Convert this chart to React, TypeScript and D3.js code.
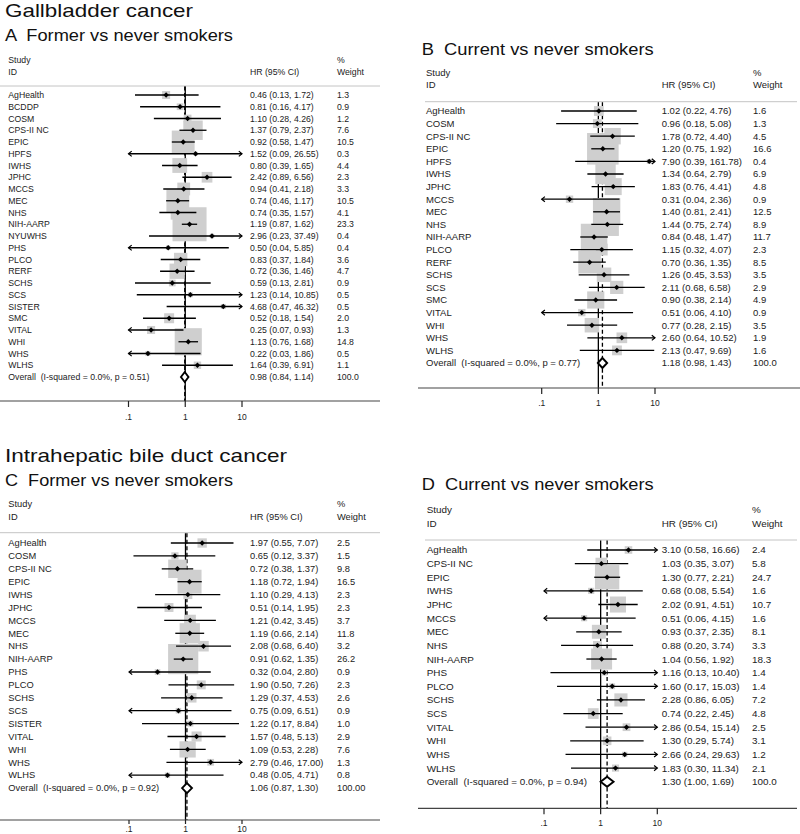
import React from 'react';
import * as d3 from 'd3';

// ---------- Panel A: Gallbladder, former vs never ----------
const studiesA = ['AgHealth', 'BCDDP', 'COSM', 'CPS-II NC', 'EPIC', 'HPFS', 'IWHS', 'JPHC', 'MCCS', 'MEC', 'NHS', 'NIH-AARP', 'NYUWHS', 'PHS', 'PLCO', 'RERF', 'SCHS', 'SCS', 'SISTER', 'SMC', 'VITAL', 'WHI', 'WHS', 'WLHS'];
const hrA = [0.46, 0.81, 1.10, 1.37, 0.92, 1.52, 0.80, 2.42, 0.94, 0.74, 0.74, 1.19, 2.96, 0.50, 0.83, 0.72, 0.59, 1.23, 4.68, 0.52, 0.25, 1.13, 0.22, 1.64];
const lowerA = [0.13, 0.16, 0.28, 0.79, 0.58, 0.09, 0.39, 0.89, 0.41, 0.46, 0.35, 0.87, 0.23, 0.04, 0.37, 0.36, 0.13, 0.14, 0.47, 0.18, 0.07, 0.76, 0.03, 0.39];
const upperA = [1.72, 4.17, 4.26, 2.37, 1.47, 26.55, 1.65, 6.56, 2.18, 1.17, 1.57, 1.62, 37.49, 5.85, 1.84, 1.46, 2.81, 10.85, 46.32, 1.54, 0.93, 1.68, 1.86, 6.91];
const weightA = ['1.3', '0.9', '1.2', '7.6', '10.5', '0.3', '4.4', '2.3', '3.3', '10.5', '4.1', '23.3', '0.4', '0.4', '3.6', '4.7', '0.9', '0.5', '0.5', '2.0', '1.3', '14.8', '0.5', '1.1'];
const overallA = [0.98, 0.84, 1.14];
const overallWeightA = '100.0';
const overallPA = '0.51';

// ---------- Panel B: Gallbladder, current vs never ----------
const studiesB = ['AgHealth', 'COSM', 'CPS-II NC', 'EPIC', 'HPFS', 'IWHS', 'JPHC', 'MCCS', 'MEC', 'NHS', 'NIH-AARP', 'PLCO', 'RERF', 'SCHS', 'SCS', 'SMC', 'VITAL', 'WHI', 'WHS', 'WLHS'];
const hrB = [1.02, 0.96, 1.78, 1.20, 7.90, 1.34, 1.83, 0.31, 1.40, 1.44, 0.84, 1.15, 0.70, 1.26, 2.11, 0.90, 0.51, 0.77, 2.60, 2.13];
const lowerB = [0.22, 0.18, 0.72, 0.75, 0.39, 0.64, 0.76, 0.04, 0.81, 0.75, 0.48, 0.32, 0.36, 0.45, 0.68, 0.38, 0.06, 0.28, 0.64, 0.47];
const upperB = [4.76, 5.08, 4.40, 1.92, 161.78, 2.79, 4.41, 2.36, 2.41, 2.74, 1.47, 4.07, 1.35, 3.53, 6.58, 2.14, 4.10, 2.15, 10.52, 9.69];
const weightB = ['1.6', '1.3', '4.5', '16.6', '0.4', '6.9', '4.8', '0.9', '12.5', '8.9', '11.7', '2.3', '8.5', '3.5', '2.9', '4.9', '0.9', '3.5', '1.9', '1.6'];
const overallB = [1.18, 0.98, 1.43];
const overallWeightB = '100.0';
const overallPB = '0.77';

// ---------- Panel C: Intrahepatic, former vs never ----------
const studiesC = ['AgHealth', 'COSM', 'CPS-II NC', 'EPIC', 'IWHS', 'JPHC', 'MCCS', 'MEC', 'NHS', 'NIH-AARP', 'PHS', 'PLCO', 'SCHS', 'SCS', 'SISTER', 'VITAL', 'WHI', 'WHS', 'WLHS'];
const hrC = [1.97, 0.65, 0.72, 1.18, 1.10, 0.51, 1.21, 1.19, 2.08, 0.91, 0.32, 1.90, 1.29, 0.75, 1.22, 1.57, 1.09, 2.79, 0.48];
const lowerC = [0.55, 0.12, 0.38, 0.72, 0.29, 0.14, 0.42, 0.66, 0.68, 0.62, 0.04, 0.50, 0.37, 0.09, 0.17, 0.48, 0.53, 0.46, 0.05];
const upperC = [7.07, 3.37, 1.37, 1.94, 4.13, 1.95, 3.45, 2.14, 6.40, 1.35, 2.80, 7.26, 4.53, 6.51, 8.84, 5.13, 2.28, 17.00, 4.71];
const weightC = ['2.5', '1.5', '9.8', '16.5', '2.3', '2.3', '3.7', '11.8', '3.2', '26.2', '0.9', '2.3', '2.6', '0.9', '1.0', '2.9', '7.6', '1.3', '0.8'];
const overallC = [1.06, 0.87, 1.30];
const overallWeightC = '100.00';
const overallPC = '0.92';

// ---------- Panel D: Intrahepatic, current vs never ----------
const studiesD = ['AgHealth', 'CPS-II NC', 'EPIC', 'IWHS', 'JPHC', 'MCCS', 'MEC', 'NHS', 'NIH-AARP', 'PHS', 'PLCO', 'SCHS', 'SCS', 'VITAL', 'WHI', 'WHS', 'WLHS'];
const hrD = [3.10, 1.03, 1.30, 0.68, 2.02, 0.51, 0.93, 0.88, 1.04, 1.16, 1.60, 2.28, 0.74, 2.86, 1.30, 2.66, 1.83];
const lowerD = [0.58, 0.35, 0.77, 0.08, 0.91, 0.06, 0.37, 0.20, 0.56, 0.13, 0.17, 0.86, 0.22, 0.54, 0.29, 0.24, 0.30];
const upperD = [16.66, 3.07, 2.21, 5.54, 4.51, 4.15, 2.35, 3.74, 1.92, 10.40, 15.03, 6.05, 2.45, 15.14, 5.74, 29.63, 11.34];
const weightD = ['2.4', '5.8', '24.7', '1.6', '10.7', '1.6', '8.1', '3.3', '18.3', '1.4', '1.4', '7.2', '4.8', '2.5', '3.1', '1.2', '2.1'];
const overallD = [1.30, 1.00, 1.69];
const overallWeightD = '100.0';
const overallPD = '0.94';

const tickValues = [0.1, 1, 10];
const tickLabels = ['.1', '1', '10'];

const FONT = '"Liberation Sans", Arial, Helvetica, sans-serif';
const TEXT = '#222';

type Layout = {
  labelX: number; hrX: number; wtX: number; x01: number; x10: number;
  axisX0: number; axisX1: number; headX0: number; headX1: number;
  studyY: number; idY: number; headLineY: number; row0: number; rowStep: number;
  axisY: number; tickLabelY: number; tickLen: number; font: number; boxK: number;
  subtitle: string; subX: number; subY: number; subLen: number;
};

const layoutA: Layout = { labelX: 8.3, hrX: 250, wtX: 337, x01: 128.5, x10: 242, axisX0: 0, axisX1: 380, headX0: 0, headX1: 380, studyY: 60, idY: 71.5, headLineY: 86, row0: 95, rowStep: 11.75, axisY: 401, tickLabelY: 416.7, tickLen: 6, font: 8.7, boxK: 7.05, subtitle: 'A  Former vs never smokers', subX: 5, subY: 40.7, subLen: 228 };
const layoutB: Layout = { labelX: 426, hrX: 661.7, wtX: 753, x01: 541.7, x10: 655, axisX0: 418, axisX1: 800, headX0: 425, headX1: 797, studyY: 73, idY: 85, headLineY: 101.7, row0: 111, rowStep: 12.6, axisY: 388, tickLabelY: 403, tickLen: 6, font: 9.5, boxK: 7.75, subtitle: 'B  Current vs never smokers', subX: 421.7, subY: 55, subLen: 232 };
const layoutC: Layout = { labelX: 8.3, hrX: 250, wtX: 337, x01: 129, x10: 242, axisX0: 0, axisX1: 380, headX0: 0, headX1: 380, studyY: 503.3, idY: 516.7, headLineY: 532.7, row0: 543, rowStep: 12.9, axisY: 820, tickLabelY: 829.5, tickLen: 4, font: 9.3, boxK: 5.9, subtitle: 'C  Former vs never smokers', subX: 5, subY: 486, subLen: 228 };
const layoutD: Layout = { labelX: 426.7, hrX: 661.7, wtX: 752, x01: 544, x10: 657.3, axisX0: 418, axisX1: 797, headX0: 425, headX1: 797, studyY: 510, idY: 523.3, headLineY: 540, row0: 550, rowStep: 13.63, axisY: 808.3, tickLabelY: 823.3, tickLen: 6, font: 9.9, boxK: 4.9, subtitle: 'D  Current vs never smokers', subX: 421.7, subY: 490, subLen: 232 };

type PanelProps = {
  L: Layout; studies: string[]; hr: number[]; lo: number[]; hi: number[]; wt: string[];
  ov: number[]; ovW: string; p: string;
};

function Panel({ L, studies, hr, lo, hi, wt, ov, ovW, p }: PanelProps) {
  const x = d3.scaleLog().domain([0.1, 10]).range([L.x01, L.x10]);
  const y = (i: number) => L.row0 + i * L.rowStep;
  const n = studies.length;
  const yOv = y(n);
  const fmt = d3.format('.2f');
  const ts = { fontFamily: FONT, fontSize: L.font, fill: TEXT, whiteSpace: 'pre' as const };
  const rows = studies.map((s, i) => {
    const l = Math.max(lo[i], 0.1);
    const h = Math.min(hi[i], 10);
    return { s, i, cx: x(hr[i]), cy: y(i), xl: x(l), xr: x(h), arrL: lo[i] < 0.1, arrR: hi[i] > 10, side: L.boxK * Math.sqrt(parseFloat(wt[i])) };
  });
  const a = 3.2, ah = 2.6;
  return (
    <g>
      <text x={L.subX} y={L.subY} style={{ fontFamily: FONT, fontSize: 15.8, fill: '#111', whiteSpace: 'pre' }} textLength={L.subLen} lengthAdjust="spacingAndGlyphs">{L.subtitle}</text>
      {/* headers */}
      <text x={L.labelX} y={L.studyY} dy="0.35em" style={ts}>Study</text>
      <text x={L.labelX} y={L.idY} dy="0.35em" style={ts}>ID</text>
      <text x={L.hrX} y={L.idY} dy="0.35em" style={ts}>HR (95% CI)</text>
      <text x={L.wtX} y={L.studyY} dy="0.35em" style={ts}>%</text>
      <text x={L.wtX} y={L.idY} dy="0.35em" style={ts}>Weight</text>
      <line x1={L.headX0} x2={L.headX1} y1={L.headLineY} y2={L.headLineY} stroke="#c4c4c4" strokeWidth={1} />
      {/* vertical lines */}
      <line x1={x(1)} x2={x(1)} y1={L.headLineY + 0.5} y2={L.axisY} stroke="#000" strokeWidth={1.3} />
      <line x1={x(ov[0])} x2={x(ov[0])} y1={L.headLineY + 0.5} y2={L.axisY} stroke="#000" strokeWidth={1.3} strokeDasharray="4,2.5" />
      {/* boxes */}
      {rows.map(r => (
        <rect key={'b' + r.i} x={r.cx - r.side / 2} y={r.cy - r.side / 2} width={r.side} height={r.side} fill="#cfcfcf" />
      ))}
      {/* CI lines and markers */}
      {rows.map(r => (
        <g key={'c' + r.i}>
          <line x1={r.xl} x2={r.xr} y1={r.cy} y2={r.cy} stroke="#000" strokeWidth={1.3} />
          {r.arrL && <path d={`M${r.xl + a},${r.cy - ah} L${r.xl},${r.cy} L${r.xl + a},${r.cy + ah}`} fill="none" stroke="#000" strokeWidth={1.2} />}
          {r.arrR && <path d={`M${r.xr - a},${r.cy - ah} L${r.xr},${r.cy} L${r.xr - a},${r.cy + ah}`} fill="none" stroke="#000" strokeWidth={1.2} />}
          <path d={`M${r.cx - 2.7},${r.cy} L${r.cx},${r.cy - 2.7} L${r.cx + 2.7},${r.cy} L${r.cx},${r.cy + 2.7} Z`} fill="#000" />
        </g>
      ))}
      {/* overall diamond */}
      <path d={`M${x(ov[1])},${yOv} L${x(ov[0])},${yOv - 5} L${x(ov[2])},${yOv} L${x(ov[0])},${yOv + 5} Z`} fill="#fff" stroke="#000" strokeWidth={1.9} />
      {/* row texts */}
      {rows.map(r => (
        <g key={'t' + r.i}>
          <text x={L.labelX} y={r.cy} dy="0.35em" style={ts}>{r.s}</text>
          <text x={L.hrX} y={r.cy} dy="0.35em" style={ts}>{`${fmt(hr[r.i])} (${fmt(lo[r.i])}, ${fmt(hi[r.i])})`}</text>
          <text x={L.wtX} y={r.cy} dy="0.35em" style={ts}>{wt[r.i]}</text>
        </g>
      ))}
      <text x={L.labelX} y={yOv} dy="0.35em" style={ts}>{`Overall  (I-squared = 0.0%, p = ${p})`}</text>
      <text x={L.hrX} y={yOv} dy="0.35em" style={ts}>{`${fmt(ov[0])} (${fmt(ov[1])}, ${fmt(ov[2])})`}</text>
      <text x={L.wtX} y={yOv} dy="0.35em" style={ts}>{ovW}</text>
      {/* axis */}
      <line x1={L.axisX0} x2={L.axisX1} y1={L.axisY} y2={L.axisY} stroke="#444" strokeWidth={1.2} />
      {tickValues.map((t, i) => (
        <g key={'k' + i}>
          <line x1={x(t)} x2={x(t)} y1={L.axisY} y2={L.axisY + L.tickLen} stroke="#222" strokeWidth={1.2} />
          <text x={x(t)} y={L.tickLabelY} dy="0.35em" textAnchor="middle" style={{ fontFamily: FONT, fontSize: 8.5, fill: TEXT }}>{tickLabels[i]}</text>
        </g>
      ))}
    </g>
  );
}

export default function App() {
  return (
    <svg width={800} height={834} style={{ position: 'absolute', left: 0, top: 0, display: 'block', background: '#fff' }}>
      <rect x={0} y={0} width={800} height={834} fill="#fff" />
      <text x={5} y={17.3} style={{ fontFamily: FONT, fontSize: 19, fill: '#111' }} textLength={188} lengthAdjust="spacingAndGlyphs">Gallbladder cancer</text>
      <text x={5} y={461.7} style={{ fontFamily: FONT, fontSize: 19, fill: '#111' }} textLength={282} lengthAdjust="spacingAndGlyphs">Intrahepatic bile duct cancer</text>
      <Panel L={layoutA} studies={studiesA} hr={hrA} lo={lowerA} hi={upperA} wt={weightA} ov={overallA} ovW={overallWeightA} p={overallPA} />
      <Panel L={layoutB} studies={studiesB} hr={hrB} lo={lowerB} hi={upperB} wt={weightB} ov={overallB} ovW={overallWeightB} p={overallPB} />
      <Panel L={layoutC} studies={studiesC} hr={hrC} lo={lowerC} hi={upperC} wt={weightC} ov={overallC} ovW={overallWeightC} p={overallPC} />
      <Panel L={layoutD} studies={studiesD} hr={hrD} lo={lowerD} hi={upperD} wt={weightD} ov={overallD} ovW={overallWeightD} p={overallPD} />
    </svg>
  );
}
